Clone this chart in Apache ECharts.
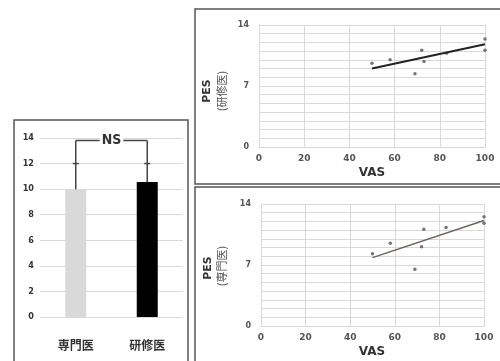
<!DOCTYPE html>
<html>
<head>
<meta charset="utf-8">
<script src="https://cdn.jsdelivr.net/npm/echarts@6/dist/echarts.min.js"></script>
<style>
  html, body { margin: 0; padding: 0; background: #fff; }
  #chart { width: 500px; height: 361px; }
</style>
</head>
<body>
<div id="chart"></div>
<script>
// bar panel
var groups = ['専門医', '研修医'];
var means = [10.0, 10.55];
var errHigh = [12, 12];
var bracketY = 13.8;
var barTicks = [0, 2, 4, 6, 8, 10, 12, 14];

// scatter panels: [VAS, PES]
var residentPts = [[50, 9.6], [58, 10.0], [69, 8.4], [72, 11.1], [73, 9.8], [83, 10.75], [100, 12.4], [100, 11.1]];
var residentTrend = [[50, 9.0], [100, 11.8]];
var specialistPts = [[50, 8.3], [58, 9.5], [69, 6.5], [72, 9.1], [73, 11.1], [83, 11.3], [100, 12.55], [100, 11.8]];
var specialistTrend = [[50, 7.85], [100, 12.1]];
var vasTicks = [0, 20, 40, 60, 80, 100];
var pesTicks = [0, 7, 14];

var narrow = '"Liberation Sans Narrow", "DejaVu Sans Condensed", sans-serif';
var cjk = '"Noto Sans CJK JP", sans-serif';
var gridColor = '#d9d9d9';

var chart = echarts.init(document.getElementById('chart'));

function scatterX(idx) {
  return {
    type: 'value', gridIndex: idx, min: 0, max: 100, interval: 20,
    axisLine: { show: true, lineStyle: { color: gridColor } },
    axisTick: { show: false },
    splitLine: { lineStyle: { color: gridColor } },
    axisLabel: { color: '#555', fontSize: 9, fontWeight: 'bold', fontFamily: 'DejaVu Sans', margin: 7 }
  };
}
function scatterY(idx) {
  return {
    type: 'value', gridIndex: idx, min: 0, max: 14, interval: 7,
    axisLine: { show: true, lineStyle: { color: gridColor } },
    axisTick: { show: false },
    splitLine: { lineStyle: { color: gridColor } },
    minorTick: { show: false, splitNumber: 7 },
    minorSplitLine: { show: true, lineStyle: { color: gridColor } },
    axisLabel: { color: '#555', fontSize: 8, fontWeight: 'bold', fontFamily: 'DejaVu Sans', margin: 10 }
  };
}

var option = {
  animation: false,
  graphic: [
    { type: 'rect', shape: { x: 14, y: 120, width: 174, height: 250 }, style: { fill: 'none', stroke: '#555', lineWidth: 1.5 } },
    { type: 'rect', shape: { x: 195, y: 9, width: 320, height: 175 }, style: { fill: 'none', stroke: '#555', lineWidth: 1.5 } },
    { type: 'rect', shape: { x: 195, y: 187, width: 320, height: 190 }, style: { fill: 'none', stroke: '#555', lineWidth: 1.5 } },
    { type: 'text', x: 207, y: 91, rotation: Math.PI / 2, style: { text: 'PES', fill: '#333', font: 'bold 11px DejaVu Sans', align: 'center', verticalAlign: 'middle' } },
    { type: 'text', x: 222, y: 91, rotation: Math.PI / 2, style: { text: '(研修医)', fill: '#555', font: '11px ' + cjk, align: 'center', verticalAlign: 'middle' } },
    { type: 'text', x: 208, y: 268, rotation: Math.PI / 2, style: { text: 'PES', fill: '#333', font: 'bold 11px DejaVu Sans', align: 'center', verticalAlign: 'middle' } },
    { type: 'text', x: 222, y: 266, rotation: Math.PI / 2, style: { text: '(専門医)', fill: '#555', font: '11px ' + cjk, align: 'center', verticalAlign: 'middle' } },
    { type: 'text', x: 372, y: 173, style: { text: 'VAS', fill: '#333', font: 'bold 12px DejaVu Sans', align: 'center', verticalAlign: 'middle' } },
    { type: 'text', x: 372, y: 352, style: { text: 'VAS', fill: '#333', font: 'bold 12px DejaVu Sans', align: 'center', verticalAlign: 'middle' } }
  ],
  grid: [
    { left: 40, right: 317, top: 138, bottom: 44 },
    { left: 259, right: 15, top: 25, bottom: 214 },
    { left: 261, right: 16, top: 204, bottom: 35 }
  ],
  xAxis: [
    {
      type: 'category', gridIndex: 0, data: groups,
      axisLine: { show: false }, axisTick: { show: false },
      axisLabel: { color: '#333', fontSize: 12, fontWeight: 'bold', fontFamily: cjk, margin: 22 }
    },
    scatterX(1),
    scatterX(2)
  ],
  yAxis: [
    {
      type: 'value', gridIndex: 0, min: 0, max: 14, interval: 2,
      axisLine: { show: false }, axisTick: { show: false },
      splitLine: { lineStyle: { color: gridColor } },
      axisLabel: { color: '#333', fontSize: 9, fontWeight: 'bold', fontFamily: narrow, margin: 6 }
    },
    scatterY(1),
    scatterY(2)
  ],
  series: [
    {
      type: 'bar', xAxisIndex: 0, yAxisIndex: 0, barWidth: 21,
      data: means.map(function (v, i) {
        return { value: v, itemStyle: { color: i === 0 ? '#d9d9d9' : '#000' } };
      })
    },
    {
      type: 'custom', xAxisIndex: 0, yAxisIndex: 0, z: 5,
      data: means.map(function (v, i) { return [i, v, errHigh[i]]; }),
      renderItem: function (params, api) {
        var base = api.coord([api.value(0), api.value(1)]);
        var hi = api.coord([api.value(0), api.value(2)]);
        var top = api.coord([api.value(0), bracketY]);
        var mid = (api.coord([0, 0])[0] + api.coord([1, 0])[0]) / 2;
        var st = { stroke: '#444', lineWidth: 1.5 };
        var children = [
          { type: 'line', shape: { x1: base[0], y1: base[1], x2: top[0], y2: top[1] }, style: st },
          { type: 'line', shape: { x1: hi[0] - 3, y1: hi[1], x2: hi[0] + 3, y2: hi[1] }, style: st },
          { type: 'line', shape: { x1: top[0], y1: top[1], x2: mid, y2: top[1] }, style: st }
        ];
        if (params.dataIndex === 0) {
          children.push({
            type: 'text', x: mid, y: top[1],
            style: { text: 'NS', fill: '#333', font: 'bold 14px ' + narrow, align: 'center', verticalAlign: 'middle',
              backgroundColor: '#fff', padding: [0, 2] },
            z2: 10
          });
        }
        return { type: 'group', children: children };
      }
    },
    {
      type: 'scatter', xAxisIndex: 1, yAxisIndex: 1, data: residentPts,
      symbolSize: 3.5, itemStyle: { color: '#555' }
    },
    {
      type: 'line', xAxisIndex: 1, yAxisIndex: 1, data: residentTrend,
      symbol: 'none', lineStyle: { color: '#222', width: 2 }
    },
    {
      type: 'scatter', xAxisIndex: 2, yAxisIndex: 2, data: specialistPts,
      symbolSize: 3.5, itemStyle: { color: '#555' }
    },
    {
      type: 'line', xAxisIndex: 2, yAxisIndex: 2, data: specialistTrend,
      symbol: 'none', lineStyle: { color: '#6d6460', width: 1.5 }
    }
  ]
};
chart.setOption(option);
</script>
</body>
</html>
